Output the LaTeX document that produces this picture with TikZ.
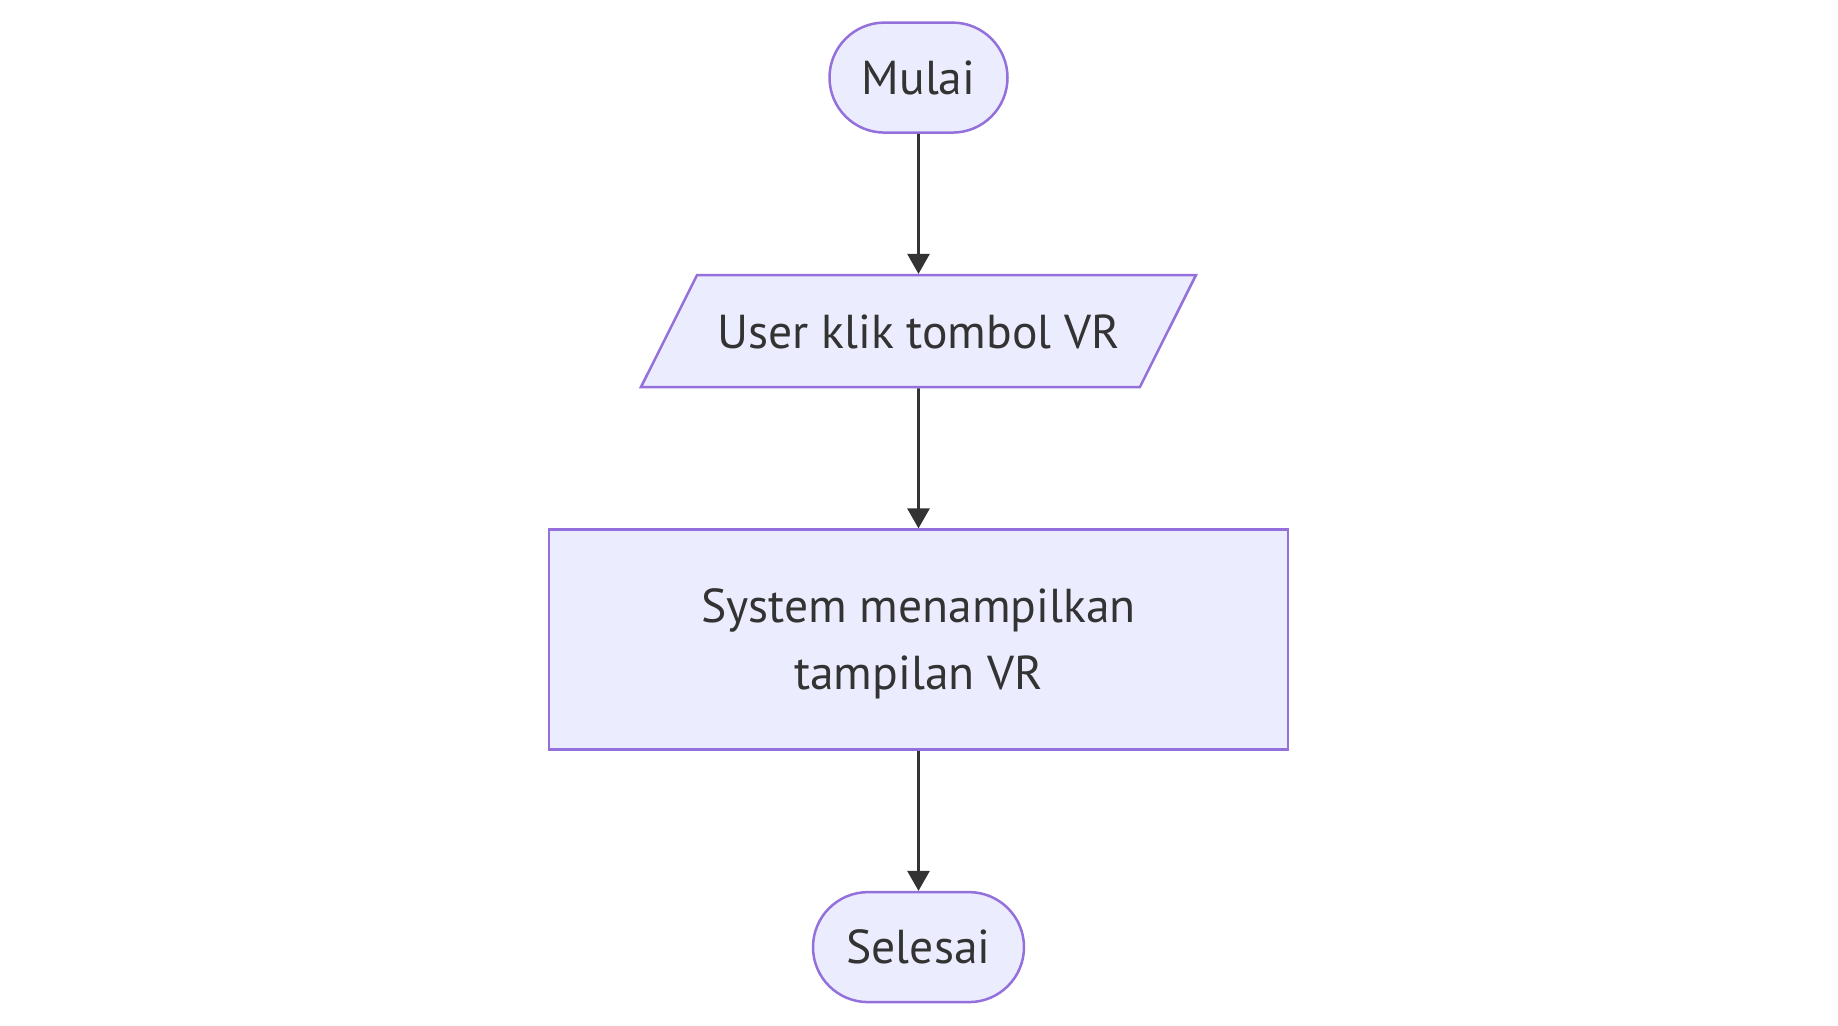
\documentclass[tikz,border=0pt]{standalone}
\usepackage{fontspec}
\setmainfont{PT Sans}
\usetikzlibrary{positioning,shapes.geometric,arrows.meta}

\definecolor{mfill}{HTML}{ECECFF}
\definecolor{mline}{HTML}{9370DB}
\definecolor{mtext}{HTML}{333333}

\tikzset{boite/.style = {draw = mline, fill = mfill, line width = 1.25pt,
                         text = mtext, align = center, inner sep = 0pt,
                         font = \fontsize{23.8}{33.5}\selectfont},
         terminal/.style = {boite, rectangle, rounded corners = 27.5pt,
                            minimum width = #1, minimum height = 55pt},
         terminal/.default = 89pt,
         entree/.style = {boite, trapezium, trapezium left angle = 63.4,
                          trapezium right angle = 116.6, trapezium stretches body,
                          text height = 19pt, text depth = 2pt, inner ysep = 17.5pt,
                          minimum width = 277.5pt},
         process/.style = {boite, rectangle, minimum width = 369.5pt,
                           minimum height = 110pt},
         fleche/.style = {draw = mtext, line width = 1.4pt,
                          -{Triangle[length = 10pt, width = 11pt]}}
        }

\begin{document}
\begin{tikzpicture}[node distance = 70pt]
  \useasboundingbox (0,0) rectangle (919pt,-513pt);
  \node[terminal]           (mulai)   at (459.25pt,-38.8pt) {Mulai};
  \node[entree, below = of mulai]   (klik)    {User klik tombol VR};
  \node[process, below = of klik]   (tampil)  {\rule{0pt}{21.5pt}System menampilkan\\tampilan VR};
  \node[terminal = 105.5pt, below = of tampil] (selesai) {Selesai};
  \draw[fleche] (mulai)  -- (klik);
  \draw[fleche] (klik)   -- (tampil);
  \draw[fleche] (tampil) -- (selesai);
\end{tikzpicture}
\end{document}
